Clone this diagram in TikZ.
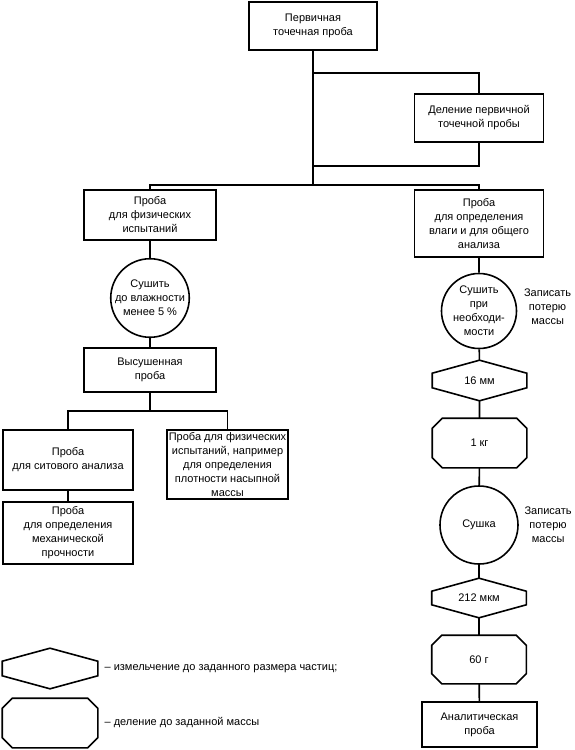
\documentclass[tikz,border=0pt]{standalone}
\usepackage{fontspec}
\setmainfont{Liberation Sans}
\usetikzlibrary{positioning}

% outline of a milling step (pointed top and bottom) and of a division step (cut corners)
\newcommand\millpath[1]{\draw (#1.north)--([yshift=-13pt]#1.north east)--([yshift=13pt]#1.south east)--(#1.south)--([yshift=13pt]#1.south west)--([yshift=-13pt]#1.north west)--cycle;}
\newcommand\splitpath[1]{\draw ([xshift=10pt]#1.north west)--([xshift=-10pt]#1.north east)--([yshift=-10pt]#1.north east)--([yshift=10pt]#1.south east)--([xshift=-10pt]#1.south east)--([xshift=10pt]#1.south west)--([yshift=10pt]#1.south west)--([yshift=-10pt]#1.north west)--cycle;}

\begin{document}
\begin{tikzpicture}[x=1pt,y=-1pt,line width=1.6pt,
    every node/.style={font=\fontsize{11}{14}\selectfont,align=center,inner sep=0pt},
    box/.style 2 args={draw,minimum width=#1,minimum height=#2},
    blank/.style 2 args={minimum width=#1,minimum height=#2},
    dryer/.style={draw,circle,minimum size=#1}]
    \useasboundingbox (0,0) rectangle (575,750);
    % upper part
    \node[box={128}{48}](primary) at (313,26){Первичная\\точечная проба};
    \node[box={129}{48}](divide) at (479,118){Деление первичной\\точечной пробы};
    \coordinate (tapA) at (313,73);
    \coordinate (tapB) at (313,166);
    \coordinate (fork) at (313,185);
    \draw (primary)--(fork);
    \draw (tapA)-|(divide);
    \draw (divide)|-(tapB);
    % left branch
    \node[box={132}{50}](phys) at (150,215){Проба\\для физических\\испытаний};
    \node[dryer=74pt](dryA) at (150,298){Сушить\\до влажности\\менее 5 \%};
    \node[box={132}{44}](dried) at (150,370){Высушенная\\проба};
    \coordinate (forkL) at (150,411);
    \node[box={130}{60}](sieve) at (68,460){Проба\\для ситового анализа};
    \node[box={121}{69}](bulk) at (227.5,464.5){Проба для физических\\испытаний, например\\для определения\\плотности насыпной\\массы};
    \node[box={130}{62}](mech) at (68,533){Проба\\для определения\\механической\\прочности};
    \draw (fork)-|(phys);
    \draw (phys)--(dryA)--(dried)--(forkL);
    \draw (forkL)-|(sieve);
    \draw (forkL)-|(bulk);
    \draw (sieve)--(mech);
    % right branch
    \node[box={129}{67}](chem) at (479,223.5){Проба\\для определения\\влаги и для общего\\анализа};
    \node[dryer=75pt](dryB) at (479,311){Сушить\\при\\необходи-\\мости};
    \node[right=6pt of dryB,yshift=4pt](noteB){Записать\\потерю\\массы};
    \node[blank={93}{39}](millA) at (479.5,380.5){16 мм};
    \node[blank={93}{48}](splitA) at (479.5,443){1 кг};
    \node[dryer=78pt](dryC) at (479,525){Сушка};
    \node[right=5pt of dryC](noteC){Записать\\потерю\\массы};
    \node[blank={93}{38}](millB) at (479,598){212 мкм};
    \node[blank={93}{47}](splitB) at (479,659.5){60 г};
    \node[box={115}{45}](final) at (479.5,724.5){Аналитическая\\проба};
    \millpath{millA}
    \millpath{millB}
    \splitpath{splitA}
    \splitpath{splitB}
    \draw (fork)-|(chem);
    \draw (chem)--(dryB)--(millA)--(splitA)--(dryC)--(millB)--(splitB)--(final);
    % legend
    \node[blank={94}{39}](legmill) at (50,668.5){};
    \node[blank={94}{48}](legsplit) at (50,723){};
    \millpath{legmill}
    \splitpath{legsplit}
    \node[right=6pt of legmill](legmilltext){– измельчение до заданного размера частиц;};
    \node[right=6pt of legsplit](legsplittext){– деление до заданной массы};
\end{tikzpicture}
\end{document}
